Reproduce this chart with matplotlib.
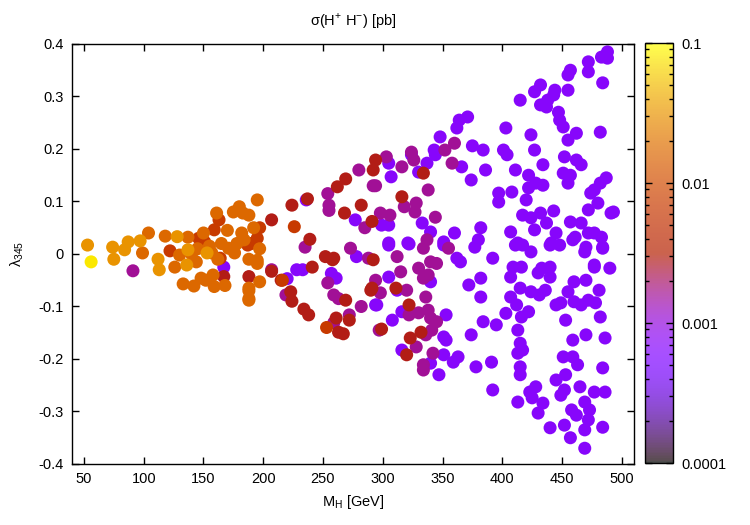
import numpy as np
import matplotlib
matplotlib.use("Agg")
from matplotlib import pyplot as plt
from matplotlib.colors import LogNorm, ListedColormap
from matplotlib.cm import ScalarMappable
from matplotlib.ticker import FixedLocator, FuncFormatter, LogLocator

plt.rcParams['font.family'] = ['Liberation Sans', 'DejaVu Sans']
plt.rcParams['mathtext.fontset'] = 'custom'
plt.rcParams['mathtext.rm'] = 'Liberation Sans'
plt.rcParams['axes.unicode_minus'] = False

# cross section classes (pb)
sig_p, sig_m, sig_r, sig_do, sig_o, sig_yo, sig_y = 0.00068, 0.0016, 0.0029, 0.0068, 0.0165, 0.031, 0.08

# purple dots
mh_p = [167, 220, 228, 236, 277, 278, 233, 257, 261, 295, 305, 307, 324, 330, 337, 343, 344, 348, 362, 364,
        371, 366, 375, 384, 386, 374, 397, 397, 403, 401, 299, 305, 333, 340, 360, 382, 380, 305, 321, 351,
        305, 322, 351, 362, 365, 377, 392, 411, 417, 424, 440, 448, 459, 469, 484, 477, 294, 305, 312, 340,
        316, 353, 308, 316, 351, 353, 351, 340, 347, 359, 363, 372, 382, 382, 384, 395, 403, 374, 378, 391,
        392, 409, 416, 407, 415, 424, 407, 412, 416, 422, 430, 433, 440, 440, 436, 431, 445, 449, 455, 460,
        470, 477, 481, 460, 466, 472, 478, 453, 413, 415, 417, 413, 415, 415, 413, 423, 428, 425, 434, 430,
        440, 445, 453, 452, 449, 465, 469, 458, 462, 473, 472, 452, 457, 469, 469, 484, 477, 486, 459, 451,
        459, 463, 470, 486, 484, 488, 483, 488, 472, 472, 484, 457, 455, 455, 432, 427, 444, 443, 438, 432,
        437, 415, 447, 448, 451, 462, 455, 482, 424, 427, 404, 452, 462, 466, 434, 411, 451, 457, 455, 422,
        428, 434, 422, 487, 482, 477, 474, 480, 472, 491, 408, 420, 443, 417, 424, 432, 427, 437, 457, 466,
        472, 483, 477, 461, 445, 407, 413, 441, 470, 484, 490, 493, 482]
lam_p = [-0.025, -0.047, -0.030, 0.103, 0.065, -0.005, -0.030, -0.037, -0.046, -0.097, 0.173, 0.147, 0.189,
         0.156, 0.173, 0.198, 0.189, 0.223, 0.240, 0.255, 0.261, 0.166, 0.206, 0.198, 0.160, 0.141, 0.116,
         0.099, 0.240, 0.198, 0.055, 0.055, 0.059, 0.042, 0.040, 0.050, 0.027, 0.021, 0.021, 0.023, 0.017,
         0.019, 0.017, -0.008, -0.015, 0.013, -0.008, 0.017, 0.017, 0.004, 0.017, 0.017, 0.027, 0.004, 0.011,
         -0.021, -0.097, -0.044, -0.069, -0.053, -0.110, -0.116, -0.126, -0.183, -0.158, -0.164, -0.192,
         -0.208, -0.230, -0.206, -0.196, -0.059, -0.046, -0.082, -0.129, -0.135, -0.113, -0.154, -0.215,
         -0.206, -0.259, -0.025, -0.025, -0.044, -0.065, -0.072, -0.082, -0.097, -0.120, -0.110, -0.036,
         -0.027, -0.025, -0.044, -0.069, -0.078, -0.097, -0.093, -0.072, -0.053, -0.050, -0.025, -0.069,
         -0.091, -0.097, -0.088, -0.093, -0.126, -0.145, -0.170, -0.183, -0.189, -0.215, -0.230, -0.282,
         -0.263, -0.253, -0.274, -0.284, -0.303, -0.331, -0.240, -0.230, -0.259, -0.269, -0.253, -0.282,
         -0.297, -0.307, -0.297, -0.316, -0.326, -0.350, -0.335, -0.370, -0.330, -0.263, -0.263, -0.164,
         -0.196, -0.196, -0.211, -0.154, -0.160, -0.217, 0.385, 0.375, 0.373, 0.366, 0.347, 0.326, 0.350,
         0.341, 0.312, 0.322, 0.309, 0.312, 0.303, 0.293, 0.284, 0.280, 0.293, 0.270, 0.255, 0.242, 0.230,
         0.217, 0.232, 0.227, 0.198, 0.189, 0.185, 0.179, 0.170, 0.170, 0.160, 0.154, 0.150, 0.135, 0.150,
         0.135, 0.131, 0.126, 0.145, 0.135, 0.122, 0.116, 0.097, 0.084, 0.078, 0.118, 0.103, 0.082, 0.074,
         0.069, 0.078, 0.046, 0.059, 0.061, 0.059, 0.040, 0.032, 0.040, 0.032, 0.040, 0.042, 0.021, 0.021,
         0.013, 0.013, -0.027, 0.080, -0.120]

# magenta dots
mh_m = [91, 207, 219, 235, 254, 255, 255, 280, 292, 273, 288, 254, 259, 263, 282, 294, 259, 297, 272, 285,
        303, 294, 316, 324, 326, 338, 352, 360, 358, 318, 327, 328, 344, 298, 306, 337, 312, 334, 345, 340,
        355, 298, 315, 320, 330, 334, 338, 336, 322, 330, 338, 340, 345, 336, 341, 328, 342, 334, 334]
lam_m = [-0.032, -0.030, -0.078, 0.013, 0.115, 0.093, 0.083, 0.160, 0.130, 0.011, -0.008, -0.055, -0.078,
         -0.085, -0.100, -0.050, -0.131, -0.145, -0.116, 0.050, 0.185, 0.130, 0.166, 0.194, 0.179, 0.122,
         0.198, 0.211, 0.173, 0.090, 0.080, 0.097, 0.070, 0.078, 0.074, 0.027, -0.005, 0.011, -0.018,
         -0.015, 0.011, -0.074, -0.034, -0.069, -0.027, -0.046, -0.040, -0.082, -0.116, -0.112, -0.107,
         -0.122, -0.129, -0.154, -0.145, -0.177, -0.189, -0.211, -0.221]

# red dots
mh_r = [167, 188, 207, 224, 237, 239, 252, 259, 262, 269, 268, 282, 291, 207, 215, 223, 224, 234, 238, 241,
        269, 291, 261, 263, 267, 272, 294, 292, 316, 290, 292, 311, 322, 299, 332, 323, 320, 334, 258]
lam_r = [-0.043, -0.043, 0.065, 0.093, 0.105, 0.028, -0.005, -0.008, 0.128, 0.143, 0.078, 0.093, 0.062,
         -0.033, -0.050, -0.072, -0.090, -0.105, -0.116, -0.025, -0.088, -0.065, -0.122, -0.149, -0.152,
         -0.126, 0.179, 0.160, 0.109, -0.069, -0.011, -0.065, -0.097, -0.143, -0.149, -0.160, -0.192,
         0.154, -0.011]

# dark orange dots
mh_do = [122, 146, 151, 159, 163, 164, 187, 195, 197, 190, 226, 216, 253]
lam_do = [0.006, 0.030, 0.023, 0.046, 0.065, -0.008, 0.017, 0.030, 0.050, 0.020, 0.052, -0.050, -0.140]

# orange dots
mh_o = [99, 104, 118, 126, 130, 133, 137, 142, 144, 148, 150, 152, 157, 158, 159, 161, 168, 171, 175, 176,
        180, 182, 183, 184, 188, 188, 188, 192, 188, 195, 197, 197, 195, 188, 195, 188, 140, 145, 165, 162,
        178, 170, 155]
lam_o = [0.002, 0.040, 0.034, -0.025, -0.002, -0.057, 0.032, -0.061, -0.015, -0.046, 0.040, -0.050, 0.002,
         -0.040, -0.062, 0.078, -0.060, 0.011, 0.080, 0.002, 0.090, 0.040, 0.078, 0.027, -0.065, -0.085,
         0.074, 0.050, -0.010, -0.012, 0.010, -0.053, 0.103, -0.070, -0.018, -0.088, 0.000, 0.010, 0.020,
         -0.010, 0.020, 0.045, 0.015]

# yellow-orange dots
mh_yo = [53, 74, 75, 84, 87, 97, 112, 113, 136, 137, 128, 153]
lam_yo = [0.017, 0.013, -0.010, 0.008, 0.023, 0.025, -0.010, -0.030, -0.021, 0.008, 0.033, 0.002]

# yellow dot
mh_y = [56]
lam_y = [-0.015]

groups = [(mh_p, lam_p, sig_p), (mh_m, lam_m, sig_m), (mh_r, lam_r, sig_r), (mh_do, lam_do, sig_do),
          (mh_o, lam_o, sig_o), (mh_yo, lam_yo, sig_yo), (mh_y, lam_y, sig_y)]
mh = np.concatenate([g[0] for g in groups])
lam = np.concatenate([g[1] for g in groups])
sig = np.concatenate([np.full(len(g[0]), g[2]) for g in groups])

cmap = plt.get_cmap('gnuplot')
norm = LogNorm(vmin=1e-4, vmax=0.1)
fs = 10.5

fig = plt.figure(figsize=(7.5, 5.25), dpi=100)
ax = fig.add_axes([0.096, 0.1162, 0.749, 0.8])
ax.scatter(mh, lam, c=sig, cmap=cmap, norm=norm, s=88, linewidths=0)

ax.set_xlim(40, 510)
ax.set_ylim(-0.4, 0.4)
ax.xaxis.set_major_locator(FixedLocator(np.arange(50, 501, 50)))
ax.yaxis.set_major_locator(FixedLocator(np.round(np.arange(-0.4, 0.41, 0.1), 1)))
ax.yaxis.set_major_formatter(FuncFormatter(lambda v, p: '0' if abs(v) < 1e-9 else f'{v:g}'))
ax.tick_params(direction='in', top=True, right=True, length=5, width=1, labelsize=fs, pad=6)
for s in ax.spines.values():
    s.set_linewidth(1)

ax.set_xlabel('M$_\\mathrm{H}$ [GeV]', fontsize=fs, labelpad=5)
ax.set_ylabel('λ$_\\mathrm{345}$', fontsize=fs, labelpad=9)
ax.set_title('σ(H$^\\mathrm{+}$ H$^\\mathrm{-}$) [pb]', fontsize=fs, pad=13)

# colour box is drawn washed out, like the reference
cols = cmap(np.linspace(0, 1, 256))
cols[:, :3] = 0.7 * cols[:, :3] + 0.3
sm = ScalarMappable(norm=norm, cmap=ListedColormap(cols))
cax = fig.add_axes([0.86, 0.118, 0.0373, 0.8])
cb = fig.colorbar(sm, cax=cax)
cb.outline.set_linewidth(1)
cax.yaxis.set_major_locator(LogLocator(base=10))
cax.yaxis.set_minor_locator(LogLocator(base=10, subs=np.arange(2, 10)))
cax.yaxis.set_major_formatter(FuncFormatter(lambda v, p: f'{v:g}'))
cax.tick_params(which='both', direction='in', left=True, right=True, width=1, labelsize=fs, pad=6)
cax.tick_params(which='major', length=5)
cax.tick_params(which='minor', length=3)

fig.savefig('out.png', dpi=100)
